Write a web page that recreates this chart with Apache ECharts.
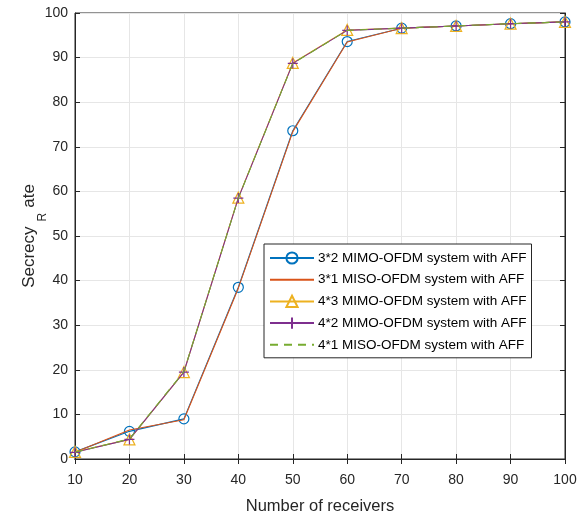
<!DOCTYPE html>
<html><head><meta charset="utf-8">
<script src="https://cdn.jsdelivr.net/npm/echarts@6/dist/echarts.min.js"></script>
<style>html,body{margin:0;padding:0;background:#fff}#c{width:583px;height:517px}</style>
</head><body><div id="c"></div>
<script>
const receivers = [10, 20, 30, 40, 50, 60, 70, 80, 90, 100];
const mimo32 = [1.6, 6.2, 9.0, 38.5, 73.6, 93.6, 96.6, 97.1, 97.6, 98.0];
const miso31 = [1.5, 6.5, 8.8, 38.3, 73.4, 93.5, 96.6, 97.1, 97.6, 98.0];
const mimo43 = [1.6, 4.4, 19.5, 58.6, 88.8, 96.2, 96.6, 97.1, 97.6, 98.0];
const mimo42 = [1.5, 4.4, 19.5, 58.5, 88.7, 96.1, 96.6, 97.1, 97.6, 98.0];
const miso41 = [1.5, 4.5, 19.6, 58.5, 88.7, 96.1, 96.6, 97.1, 97.6, 98.0];
const names = ['3*2 MIMO-OFDM system with AFF','3*1 MISO-OFDM system with AFF','4*3 MIMO-OFDM system with AFF','4*2 MIMO-OFDM system with AFF','4*1 MISO-OFDM system with AFF'];
const xTicks = [10,20,30,40,50,60,70,80,90,100];
const yTicks = [0,10,20,30,40,50,60,70,80,90,100];

const font = 'Liberation Sans, Arial, sans-serif';
const axisCol = '#262626';
const pair = a => a.map((v,i)=>[receivers[i], v]);
const plusPath = 'path://M5,0L5,10M0,5L10,5';

function mk(name, data, color, symbol, size, dashed, z) {
  return {
    name, type:'line', data: pair(data), z,
    symbol: symbol || 'none', symbolSize: size || 10,
    showSymbol: !!symbol,
    lineStyle: {color, width: 1.1, type: dashed ? [8,6] : 'solid'},
    itemStyle: {color: 'transparent', borderColor: color, borderWidth: 1.2},
    emphasis: {disabled: true}, animation: false
  };
}

const chart = echarts.init(document.getElementById('c'), null, {renderer:'canvas'});
chart.setOption({
  backgroundColor:'#fff',
  animation:false,
  grid:{left:75, right:18, top:13, bottom:58, show:true, borderColor:axisCol, borderWidth:1,
        containLabel:false, outerBoundsMode:'none'},
  xAxis:[{
    type:'value', min:10, max:100, interval:10,
    axisLine:{show:true, lineStyle:{color:axisCol}},
    axisTick:{show:true, inside:true, length:5, lineStyle:{color:axisCol}},
    axisLabel:{color:axisCol, fontSize:14, fontFamily:font, margin:14, customValues: xTicks},
    splitLine:{show:true, lineStyle:{color:'#e6e6e6'}},
    name:'Number of receivers', nameLocation:'middle', nameGap:39, nameMoveOverlap:false,
    nameTextStyle:{color:axisCol, fontSize:16.5, fontFamily:font}
  },{
    type:'value', position:'top', min:10, max:100, interval:10,
    axisLine:{show:true, lineStyle:{color:axisCol}},
    axisTick:{show:true, inside:true, length:5, lineStyle:{color:axisCol}},
    axisLabel:{show:false}, splitLine:{show:false}
  }],
  yAxis:[{
    type:'value', min:0, max:100, interval:10,
    axisLine:{show:true, lineStyle:{color:axisCol}},
    axisTick:{show:true, inside:true, length:5, lineStyle:{color:axisCol}},
    axisLabel:{color:axisCol, fontSize:14, fontFamily:font, margin:7, customValues: yTicks},
    splitLine:{show:true, lineStyle:{color:'#e6e6e6'}},
    name:'{m|Secrecy}{sub|R}{m|ate}', nameLocation:'middle', nameGap:26, nameRotate:90, nameMoveOverlap:false,
    nameTextStyle:{color:axisCol, fontSize:17, fontFamily:font,
      rich:{
        m:{fontSize:17, fontFamily:font, color:axisCol, verticalAlign:'top', padding:[0,0,0,0]},
        sub:{fontSize:12, fontFamily:font, color:axisCol, verticalAlign:'top', padding:[16,5,0,5]}
      }}
  },{
    type:'value', position:'right', min:0, max:100, interval:10,
    axisLine:{show:true, lineStyle:{color:axisCol}},
    axisTick:{show:true, inside:true, length:5, lineStyle:{color:axisCol}},
    axisLabel:{show:false}, splitLine:{show:false}
  }],
  legend:{
    orient:'vertical', left:264, top:244,
    backgroundColor:'#fff', borderColor:axisCol, borderWidth:1,
    padding:[7,5,6,5], itemWidth:44, itemHeight:14, itemGap:7.7,
    textStyle:{fontSize:13.5, fontFamily:font, color:'#000', padding:[0,0,0,-1]},
    data: [
      {name:names[0]},
      {name:names[1], itemStyle:{opacity:0}},
      {name:names[2]},
      {name:names[3]},
      {name:names[4], itemStyle:{opacity:0}}
    ]
  },
  series:[
    mk(names[0], mimo32, '#0072BD', 'circle', 10, false, 2),
    mk(names[1], miso31, '#D95319', null, 0, false, 3),
    mk(names[2], mimo43, '#EDB120', 'triangle', 11, false, 4),
    mk(names[3], mimo42, '#7E2F8E', plusPath, 10, false, 5),
    mk(names[4], miso41, '#77AC30', null, 0, true, 6)
  ]
});
</script></body></html>
